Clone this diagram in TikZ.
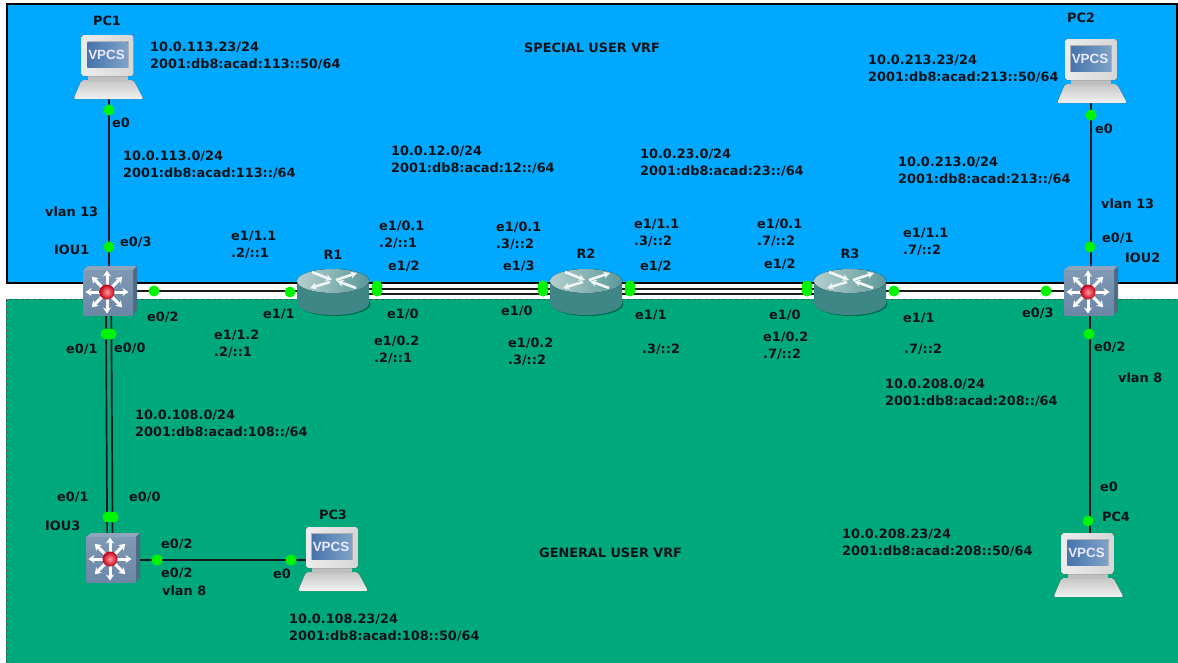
\documentclass[tikz,border=0pt]{standalone}
\usepackage{fontspec}
\usetikzlibrary{arrows.meta}
\setmainfont{DejaVu Sans}
\newfontfamily\vpcsfont{Liberation Sans}
\definecolor{vrfblue}{HTML}{00A8FF}
\definecolor{vrfgreen}{HTML}{00A97B}
\definecolor{linkgreen}{HTML}{00F500}
\definecolor{swface}{HTML}{6A87A6}
\definecolor{swtop}{HTML}{8FA5BC}
\definecolor{swside}{HTML}{4F6B84}
\definecolor{rtbody}{HTML}{3F8686}
\definecolor{rttop}{HTML}{B4CFCF}
\definecolor{scrA}{HTML}{4674AC}
\definecolor{scrB}{HTML}{7FA3C8}
\definecolor{txt}{HTML}{0A1418}
\tikzset{
  x=1pt,y=-1pt,
  lbl/.style={anchor=west,inner sep=0pt,align=left,text=txt,font=\fontsize{12.85}{17.5}\selectfont\bfseries},
  clbl/.style={lbl,anchor=center,align=center},
  link/.style={draw=black!90,line width=2pt},
  thinlink/.style={draw=black!90,line width=1.7pt},
  portdot/.style={circle,fill=linkgreen,draw=none,minimum size=11pt,inner sep=0pt},
  hub/.style={coordinate},
  pics/vpcs/.style={code={
    \fill[top color=gray!45,bottom color=gray!10,rounded corners=2pt] (-35,21) -- (-27,2) -- (25,2) -- (35,21) -- cycle;
    \fill[gray!50] (-21,-3) rectangle (19,3);
    \fill[left color=gray!15,right color=gray!32,rounded corners=2.5pt] (-27,-43) rectangle (25,-2);
    \fill[gray!60] (-22,-37) rectangle (20,-10);
    \fill[left color=scrA,right color=scrB] (-21,-36) rectangle (19,-11);
    \node[inner sep=0pt,text=white!92!blue,font=\fontsize{13.4}{14}\selectfont\vpcsfont\bfseries] (-vlabel) at (-2,-23.5) {VPCS};
  }},
  pics/router/.style={code={
    \fill[black!35!vrfgreen] (1.5,13) ellipse[x radius=36,y radius=12];
    \fill[rtbody] (-36,-10) -- (-36,12) arc[start angle=180,end angle=0,x radius=36,y radius=12] -- (36,-10) -- cycle;
    \fill[left color=rttop,right color=rtbody!85!white] (0,-10) ellipse[x radius=36,y radius=12];
    \begin{scope}[white!92!rtbody,line width=2.6pt]
      \draw[-{Stealth[length=6.5pt,width=7pt]}] (-21,-19) -- (-1,-11);
      \draw[-{Stealth[length=6.5pt,width=7pt]}] (23,-3) -- (4,-10);
      \draw[-{Stealth[length=6.5pt,width=7pt]}] (-3,-9) -- (-23,-3);
      \draw[-{Stealth[length=6.5pt,width=7pt]}] (3,-11) -- (24,-18);
    \end{scope}
  }},
  pics/switch/.style={code={
    \fill[swtop] (-24,-21) -- (-19,-25) -- (30,-25) -- (26,-21) -- cycle;
    \fill[swside] (26,-21) -- (30,-25) -- (30,19) -- (26,24) -- cycle;
    \fill[top color=swface!85!white,bottom color=swface] (-24,-21) rectangle (26,24);
    \foreach \a in {0,45,...,315}{
      \draw[white,line width=3pt,-{Stealth[length=6pt,width=8pt]}] (0,1)++(\a:6) -- ++(\a:15.5);
    }
    \shade[inner color=red!40!white,outer color=red!85!black!90!blue] (0,1) circle[radius=7.5];
  }},
}
\newcommand{\lb}[4]{\node[lbl] (#1) at (#2,#3) {#4};}
\newcommand{\cl}[4]{\node[clbl] (#1) at (#2,#3) {#4};}
\begin{document}
\begin{tikzpicture}
\useasboundingbox (0,0) rectangle (1178,662);
\fill[white] (0,0) rectangle (1178,662);
% VRF areas
\draw[fill=vrfblue,draw=black,line width=1.5pt] (7,4) rectangle (1177,283);
\draw[fill=vrfgreen,draw=black!70,line width=.8pt,dashed] (6,299) rectangle (1180,664);
% device anchors
\coordinate[hub] (pc1) at (108.5,78);
\coordinate[hub] (pc2) at (1090.5,82);
\coordinate[hub] (pc3) at (333,560);
\coordinate[hub] (pc4) at (1088.5,576);
\coordinate[hub] (iou1) at (108.5,291);
\coordinate[hub] (iou2) at (1089.5,291);
\coordinate[hub] (iou3) at (110,560);
\coordinate[hub] (r1) at (333,291);
\coordinate[hub] (r2) at (586,291);
\coordinate[hub] (r3) at (850,291);
% links
\draw[link] (pc1) -- (iou1);
\draw[link] (pc2) -- (pc2 |- iou2);
\draw[link] (iou2) -- (iou2 |- pc4);
\draw[link] (iou1) -- (r1);
\draw[link] (r3) -- (iou2);
\draw[thinlink] ([yshift=-3pt]r1) -- ([yshift=-3pt]r2);
\draw[thinlink] ([yshift=2pt]r1) -- ([yshift=2pt]r2);
\draw[thinlink] ([yshift=-3pt]r2) -- ([yshift=-3pt]r3);
\draw[thinlink] ([yshift=2pt]r2) -- ([yshift=2pt]r3);
\draw[thinlink] ([xshift=-2.7pt]iou1) -- ([xshift=-2.7pt]iou3);
\draw[thinlink] ([xshift=2.7pt]iou1) -- ([xshift=2.7pt]iou3);
\draw[link] (iou3) -- (pc3);
% devices
\pic (pc1i) at (pc1) {vpcs};
\pic (pc2i) at (1092,82) {vpcs};
\pic (pc3i) at (333,570) {vpcs};
\pic (pc4i) at (pc4) {vpcs};
\pic at ([xshift=-1.5pt]iou1) {switch};
\pic at ([xshift=-1.5pt]iou2) {switch};
\pic at ([yshift=2pt]iou3) {switch};
\pic at (r1) {router};
\pic at (r2) {router};
\pic at (r3) {router};
% port dots
\node[portdot] (d1) at (109,110) {};
\node[portdot] (d2) at (109,247) {};
\node[portdot] (d3) at (154,291) {};
\node[portdot] (d4) at (290,292) {};
\node[portdot] (d5) at (377,286) {};
\node[portdot] (d6) at (377,291) {};
\node[portdot] (d7) at (543,286) {};
\node[portdot] (d8) at (543,291) {};
\node[portdot] (d9) at (630,286) {};
\node[portdot] (d10) at (630,291) {};
\node[portdot] (d11) at (807,286) {};
\node[portdot] (d12) at (807,291) {};
\node[portdot] (d13) at (894,291) {};
\node[portdot] (d14) at (1046,291) {};
\node[portdot] (d15) at (1090,247) {};
\node[portdot] (d16) at (1091,115) {};
\node[portdot] (d17) at (1089,334) {};
\node[portdot] (d18) at (1088,521) {};
\node[portdot] (d19) at (106,334) {};
\node[portdot] (d20) at (111,334) {};
\node[portdot] (d21) at (108,517) {};
\node[portdot] (d22) at (113,517) {};
\node[portdot] (d23) at (157,560) {};
\node[portdot] (d24) at (291,560) {};
% labels
\cl{tPCa}{107}{21}{PC1}
\cl{tPCb}{1081}{18}{PC2}
\cl{tPCc}{333}{515}{PC3}
\cl{tPCd}{1116}{517}{PC4}
\cl{tRa}{333}{255}{R1}
\cl{tRb}{586}{254}{R2}
\cl{tRc}{850}{254}{R3}
\lb{tSpecial}{524}{48}{SPECIAL USER VRF}
\lb{tGeneral}{539}{553}{GENERAL USER VRF}
\lb{a1}{150}{56}{10.0.113.23/24\\2001:db8:acad:113::50/64}
\lb{a2}{123}{165}{10.0.113.0/24\\2001:db8:acad:113::/64}
\lb{a3}{391}{160}{10.0.12.0/24\\2001:db8:acad:12::/64}
\lb{a4}{640}{163}{10.0.23.0/24\\2001:db8:acad:23::/64}
\lb{a5}{898}{171}{10.0.213.0/24\\2001:db8:acad:213::/64}
\lb{a6}{868}{69}{10.0.213.23/24\\2001:db8:acad:213::50/64}
\lb{a7}{885}{393}{10.0.208.0/24\\2001:db8:acad:208::/64}
\lb{a8}{842}{543}{10.0.208.23/24\\2001:db8:acad:208::50/64}
\lb{a9}{135}{424}{10.0.108.0/24\\2001:db8:acad:108::/64}
\lb{a10}{289}{628}{10.0.108.23/24\\2001:db8:acad:108::50/64}
\lb{b1}{112}{123}{e0}
\lb{b2}{45}{212}{vlan 13}
\lb{b3}{120}{242}{e0/3}
\lb{b4}{54}{250}{IOU1}
\lb{b5}{231}{245}{e1/1.1\\.2/::1}
\lb{b6}{379}{235}{e1/0.1\\.2/::1}
\lb{b7}{388}{266}{e1/2}
\lb{b8}{263}{314}{e1/1}
\lb{b9}{147}{317}{e0/2}
\lb{b10}{387}{314}{e1/0}
\lb{b11}{214}{344}{e1/1.2\\.2/::1}
\lb{b12}{374}{350}{e1/0.2\\.2/::1}
\lb{b13}{496}{236}{e1/0.1\\.3/::2}
\lb{b14}{503}{266}{e1/3}
\lb{b15}{501}{311}{e1/0}
\lb{b16}{508}{352}{e1/0.2\\.3/::2}
\lb{b17}{634}{233}{e1/1.1\\.3/::2}
\lb{b18}{640}{266}{e1/2}
\lb{b19}{635}{315}{e1/1}
\lb{b20}{642}{349}{.3/::2}
\lb{b21}{757}{233}{e1/0.1\\.7/::2}
\lb{b22}{764}{264}{e1/2}
\lb{b23}{769}{315}{e1/0}
\lb{b24}{763}{346}{e1/0.2\\.7/::2}
\lb{b25}{903}{242}{e1/1.1\\.7/::2}
\lb{b26}{903}{318}{e1/1}
\lb{b27}{904}{349}{.7/::2}
\lb{b28}{1022}{313}{e0/3}
\lb{b29}{1102}{238}{e0/1}
\lb{b30}{1125}{258}{IOU2}
\lb{b31}{1101}{204}{vlan 13}
\lb{b32}{1095}{129}{e0}
\lb{b33}{1094}{347}{e0/2}
\lb{b34}{1118}{378}{vlan 8}
\lb{b35}{1100}{487}{e0}
\lb{b36}{57}{497}{e0/1}
\lb{b37}{129}{497}{e0/0}
\lb{b38}{66}{349}{e0/1}
\lb{b39}{114}{348}{e0/0}
\lb{b40}{45}{526}{IOU3}
\lb{b41}{161}{544}{e0/2}
\lb{b42}{161}{573}{e0/2}
\lb{b43}{162}{591}{vlan 8}
\lb{b44}{273}{574}{e0}
\end{tikzpicture}
\end{document}
